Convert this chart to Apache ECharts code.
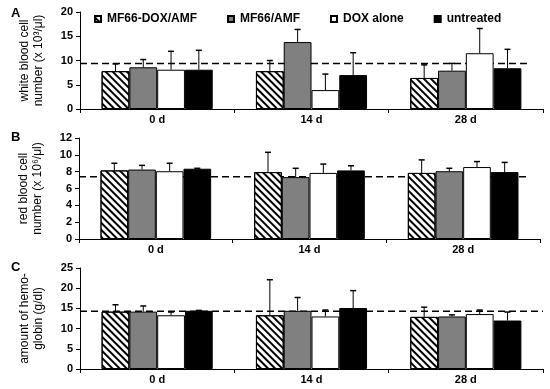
<!DOCTYPE html>
<html><head><meta charset="utf-8">
<script src="https://cdn.jsdelivr.net/npm/echarts@6/dist/echarts.min.js"></script>
<style>html,body{margin:0;padding:0;background:#fff}#c{width:550px;height:389px}</style>
</head><body><div id="c"></div>
<script>
const categories = ['0 d', '14 d', '28 d'];
const seriesNames = ['MF66-DOX/AMF', 'MF66/AMF', 'DOX alone', 'untreated'];

// Panel A: white blood cell number (x10^3/ul)
const wbcMean = [[7.8, 7.8, 6.4], [8.6, 13.8, 7.9], [8.1, 3.9, 11.5], [8.1, 7.0, 8.4]];
const wbcSd   = [[1.5, 2.2, 2.7], [1.6, 2.6, 1.5], [3.8, 3.3, 5.1], [4.0, 4.6, 3.9]];
const wbcRef = 9.4;
// Panel B: red blood cell number (x10^6/ul)
const rbcMean = [[8.15, 7.95, 7.85], [8.25, 7.35, 8.05], [8.05, 7.85, 8.55], [8.35, 8.15, 7.95]];
const rbcSd   = [[0.85, 2.35, 1.55], [0.5, 1.05, 0.35], [0.95, 1.05, 0.65], [0.05, 0.55, 1.15]];
const rbcRef = 7.4;
// Panel C: hemoglobin (g/dl)
const hgbMean = [[14.2, 13.3, 12.9], [14.2, 14.4, 13.0], [13.3, 13.0, 13.6], [14.4, 15.1, 12.0]];
const hgbSd   = [[1.7, 8.8, 2.4], [1.4, 3.3, 0.4], [0.8, 1.6, 1.0], [0.1, 4.3, 2.1]];
const hgbRef = 14.3;

const yTicksA = {min: 0, max: 20, interval: 5};
const yTicksB = {min: 0, max: 12, interval: 2};
const yTicksC = {min: 0, max: 25, interval: 5};
// fraction of the plot width covered by each dashed reference line
const refExtent = [0.972, 0.974, 1.0];

const FONT = '"Liberation Sans", Arial, sans-serif';
const CAT_GAP = 0.28;

const panels = [
  {mean: wbcMean, sd: wbcSd, ref: wbcRef, ticks: yTicksA, name: 'white blood cell\nnumber (x 10³/μl)', letter: 'A',
   grid: {left: 80, right: 7, top: 12, height: 97}},
  {mean: rbcMean, sd: rbcSd, ref: rbcRef, ticks: yTicksB, name: 'red blood cell\nnumber (x 10⁶/μl)', letter: 'B',
   grid: {left: 79, right: 10, top: 138, height: 101}},
  {mean: hgbMean, sd: hgbSd, ref: hgbRef, ticks: yTicksC, name: 'amount of hemo-\nglobin (g/dl)', letter: 'C',
   grid: {left: 80, right: 7, top: 268, height: 101}}
];

const barStyles = [
  {color: '#ffffff', borderColor: '#000', borderWidth: 1,
   decal: {symbol: 'rect', symbolSize: 1, dashArrayX: [1, 0], dashArrayY: [2, 2.5], rotation: Math.PI / 4, color: '#000'}},
  {color: '#808080', borderColor: '#000', borderWidth: 1},
  {color: '#ffffff', borderColor: '#000', borderWidth: 1},
  {color: '#000000', borderColor: '#000', borderWidth: 1}
];

const grid = [], xAxis = [], yAxis = [], series = [];
panels.forEach((p, gi) => {
  grid.push(p.grid);
  xAxis.push({
    type: 'category', gridIndex: gi, data: categories,
    axisLine: {lineStyle: {color: '#000', width: 1}},
    axisTick: {show: true, length: 4, lineStyle: {color: '#000'}},
    axisLabel: {color: '#000', fontFamily: FONT, fontWeight: 'bold', fontSize: 11, margin: 5}
  });
  xAxis.push({type: 'value', gridIndex: gi, min: 0, max: 1, show: false});
  yAxis.push({
    type: 'value', gridIndex: gi, min: p.ticks.min, max: p.ticks.max, interval: p.ticks.interval,
    name: p.name, nameLocation: 'middle', nameGap: 34, nameRotate: 90,
    nameTextStyle: {color: '#000', fontFamily: FONT, fontSize: 12, lineHeight: 14},
    axisLine: {show: true, lineStyle: {color: '#000', width: 1}},
    axisTick: {show: true, length: 4, lineStyle: {color: '#000'}},
    splitLine: {show: false},
    axisLabel: {color: '#000', fontFamily: FONT, fontWeight: 'bold', fontSize: 11, margin: 7}
  });
  const xi = gi * 2;
  // reference dashed line (behind bars)
  series.push({
    type: 'line', xAxisIndex: xi + 1, yAxisIndex: gi, z: 1, silent: true, symbol: 'none',
    data: [[0, p.ref], [refExtent[gi], p.ref]],
    lineStyle: {color: '#000', width: 1.5, type: [7, 4]}
  });
  seriesNames.forEach((nm, si) => {
    series.push({
      type: 'bar', name: nm, xAxisIndex: xi, yAxisIndex: gi, z: 2,
      data: p.mean[si], barGap: '0%', barCategoryGap: (CAT_GAP * 100) + '%',
      itemStyle: barStyles[si]
    });
  });
  const errData = [];
  seriesNames.forEach((nm, si) => {
    p.mean[si].forEach((m, ci) => errData.push([ci, m, p.sd[si][ci], si]));
  });
  series.push({
    type: 'custom', xAxisIndex: xi, yAxisIndex: gi, z: 3, silent: true,
    data: errData,
    renderItem: function (params, api) {
      const ci = api.value(0), m = api.value(1), sd = api.value(2), si = api.value(3);
      const base = api.coord([ci, m]);
      const top = api.coord([ci, m + sd]);
      const band = api.size([1, 0])[0];
      const group = band * (1 - CAT_GAP);
      const bw = group / 4;
      const x = base[0] - group / 2 + bw * (si + 0.5);
      return {type: 'group', children: [
        {type: 'line', shape: {x1: x, y1: base[1], x2: x, y2: top[1]}, style: {stroke: '#000', lineWidth: 1}},
        {type: 'line', shape: {x1: x - 3, y1: top[1], x2: x + 3, y2: top[1]}, style: {stroke: '#000', lineWidth: 1.5}}
      ]};
    }
  });
});

const title = panels.map((p, gi) => ({
  text: p.letter, left: 6, top: [2, 126, 256][gi],
  textStyle: {fontFamily: FONT, fontWeight: 'bold', fontSize: 13, color: '#000'}
}));

const chart = echarts.init(document.getElementById('c'), null, {renderer: 'canvas'});
chart.setOption({
  animation: false,
  backgroundColor: '#fff',
  title: title,
  legend: {
    data: seriesNames, left: 89, top: 8, itemGap: 30, itemWidth: 6, itemHeight: 6, icon: 'rect',
    textStyle: {fontFamily: FONT, fontWeight: 'bold', fontSize: 12, color: '#000', padding: [0, 0, 0, 1]}
  },
  grid: grid, xAxis: xAxis, yAxis: yAxis, series: series
});
</script></body></html>
